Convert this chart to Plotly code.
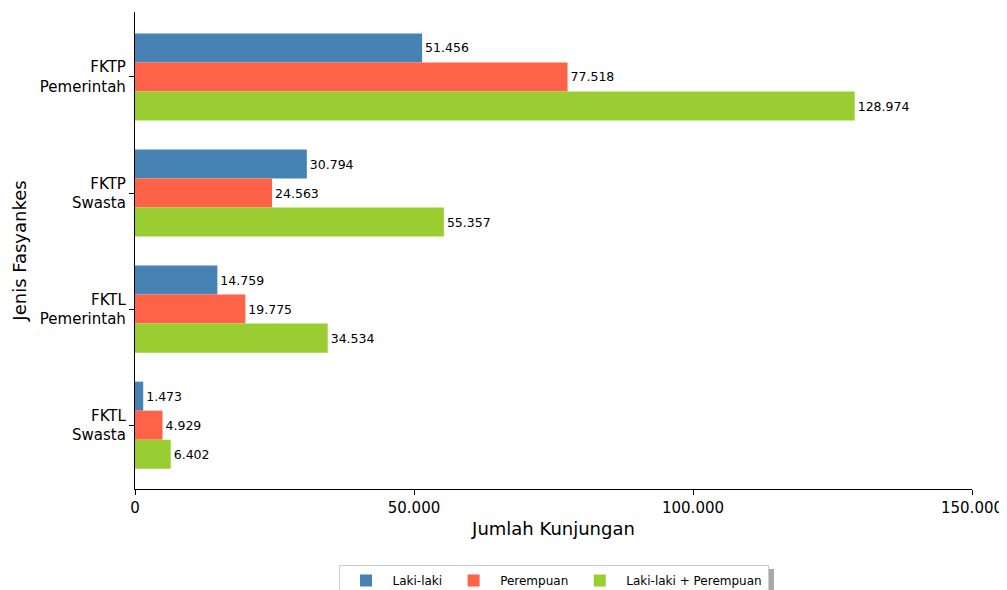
import plotly.graph_objects as go

categories = ["FKTP<br>Pemerintah", "FKTP<br>Swasta", "FKTL<br>Pemerintah", "FKTL<br>Swasta"]
laki = [51456, 30794, 14759, 1473]
perempuan = [77518, 24563, 19775, 4929]
total = [128974, 55357, 34534, 6402]
series_names = ["Laki-laki", "Perempuan", "Laki-laki + Perempuan"]
colors = ["#4682B4", "#FF6347", "#9ACD32"]
x_ticks = [0, 50000, 100000, 150000]

fig = go.Figure()
for name, vals, col in zip(series_names, [laki, perempuan, total], colors):
    fig.add_trace(go.Bar(
        y=categories, x=vals, name=name, orientation="h",
        marker=dict(color=col, line=dict(width=0)),
        text=vals, texttemplate="%{x:,}", textposition="outside",
        textfont=dict(family="DejaVu Sans", size=12.5, color="black"),
        cliponaxis=False,
    ))

# legend shadow (decorative)
fig.add_shape(type="rect", xref="paper", yref="paper",
              x0=0.2485, x1=0.7634, y0=-0.26, y1=-0.1677,
              fillcolor="#a8a8a8", line=dict(width=0), layer="above")

# page has an 8px body margin, so the figure is sized 8px smaller and margins shifted
fig.update_layout(
    width=999, height=582,
    barmode="group", bargap=0.25, bargroupgap=0,
    separators=",.",
    paper_bgcolor="white", plot_bgcolor="white",
    font=dict(family="DejaVu Sans", size=15, color="black"),
    margin=dict(l=127, r=35, t=4, b=101, autoexpand=False),
    xaxis=dict(
        range=[0, 150000], tickvals=x_ticks, tickformat=",d",
        showgrid=False, zeroline=False, showline=True, linecolor="black", linewidth=1.3,
        ticks="outside", ticklen=5, tickcolor="black", automargin=False,
        title=dict(text="Jumlah Kunjungan", font=dict(size=18), standoff=6),
        tickfont=dict(size=15),
    ),
    yaxis=dict(
        autorange=False, range=[3.55, -0.56],
        showgrid=False, zeroline=False, showline=True, linecolor="black", linewidth=1.3,
        ticks="outside", ticklen=5, tickcolor="black", automargin=False,
        title=dict(text="Jenis Fasyankes", font=dict(size=18), standoff=8),
        tickfont=dict(size=15),
    ),
    legend=dict(
        orientation="h", x=0.5, xanchor="center", y=-0.1595, yanchor="top",
        bordercolor="#cccccc", borderwidth=1, bgcolor="white",
        font=dict(size=12), itemwidth=43,
    ),
    showlegend=True,
)

fig.write_html("out.html")
